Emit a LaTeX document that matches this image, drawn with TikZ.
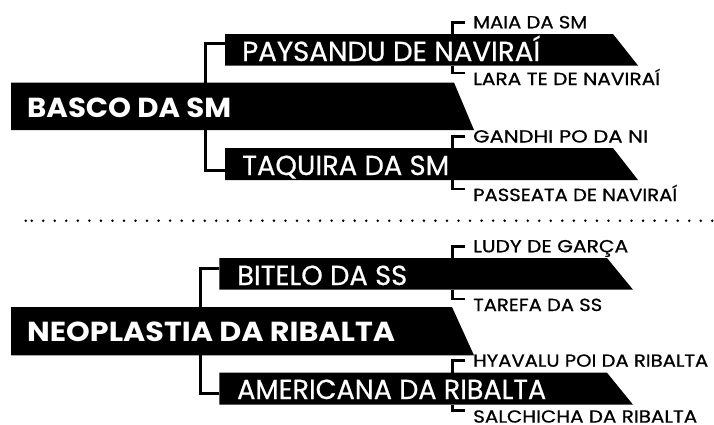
\documentclass[tikz,border=0pt]{standalone}
\usepackage{graphicx}
\usepackage{fontspec}
\setmainfont{Poppins}
\newfontfamily\medfont{Poppins}[FakeBold=0.7]
\newsavebox\fitbox
\newcommand\fitw[2]{\sbox\fitbox{#2}\scalebox{\fpeval{(#1)/(\the\wd\fitbox)}}[1]{\usebox\fitbox}}
\begin{document}
\begin{tikzpicture}[x=1pt,y=-1pt,
  bannertext/.style={text=white,anchor=base west,inner sep=0pt,font=\medfont\fontsize{27.5}{27.5}\selectfont},
  maintext/.style={text=white,anchor=base west,inner sep=0pt,font=\fontsize{27.5}{27.5}\selectfont\bfseries},
  leaftext/.style={text=black,anchor=base west,inner xsep=8pt,inner ysep=0pt,text height=12pt,text depth=0pt,font=\medfont\fontsize{17.5}{17.5}\selectfont},
  link/.style={line width=3pt,line join=miter},
  leaflink/.style={line width=2.5pt,line join=miter},
  dotline/.style={fill=black}
]
\useasboundingbox (0,0) rectangle (714,424);
\newcommand\bannerfill[5]{\fill (#1,#2) -- (#3,#2) -- (#4,#5) -- (#1,#5) -- cycle;}

% ---------- top family ----------
\bannerfill{11}{82.5}{454}{474}{130}
\bannerfill{225}{34}{613}{638}{65.5}
\bannerfill{225}{148}{613}{638}{180}

\node[maintext] (basco) at (27,117.3) {\fitw{204}{BASCO DA SM}};
\node[bannertext] (paysandu) at (242,61) {\fitw{298}{PAYSANDU DE NAVIRAÍ}};
\node[bannertext] (taquira) at (242,175) {\fitw{207}{TAQUIRA DA SM}};

\node[leaftext] (maia) at (465,28.3) {\fitw{114}{MAIA DA SM}};
\node[leaftext] (lara) at (465,85) {\fitw{187}{LARA TE DE NAVIRAÍ}};
\node[leaftext] (gandhi) at (465,142.5) {\fitw{175}{GANDHI PO DA NI}};
\node[leaftext] (passeata) at (465,201) {\fitw{204}{PASSEATA DE NAVIRAÍ}};

\coordinate (basco-t) at (205,82.5);
\coordinate (basco-b) at (205,130);
\coordinate (pay-in) at (225,43.3);
\coordinate (taq-in) at (225,170);
\coordinate (pay-t) at (452.5,34);
\coordinate (pay-b) at (452.5,65.5);
\coordinate (taq-t) at (452.5,148);
\coordinate (taq-b) at (452.5,180);

\draw[link] (pay-in) -| (basco-t);
\draw[link] (taq-in) -| (basco-b);
\draw[leaflink] (maia.west) -| (pay-t);
\draw[leaflink] (lara.north west) -| (pay-b);
\draw[leaflink] (gandhi.west) -| (taq-t);
\draw[leaflink] (passeata.north west) -| (taq-b);

% ---------- separator ----------
\fill[dotline] (25.7,220.7) circle (1.4);
\foreach \k in {0,...,59} {\fill[dotline] (31.7+11.535*\k,220.7) circle (1.4);}

% ---------- bottom family ----------
\bannerfill{11}{307}{452}{474}{355.3}
\bannerfill{219.3}{258}{607}{633}{289.7}
\bannerfill{219.3}{372.7}{607}{633}{404.7}

\node[maintext] (neo) at (27,341.3) {\fitw{368}{NEOPLASTIA DA RIBALTA}};
\node[bannertext] (bitelo) at (237,285) {\fitw{170}{BITELO DA SS}};
\node[bannertext] (americana) at (237,399) {\fitw{309}{AMERICANA DA RIBALTA}};

\node[leaftext] (ludy) at (465,252.3) {\fitw{155}{LUDY DE GARÇA}};
\node[leaftext] (tarefa) at (465,311) {\fitw{129}{TAREFA DA SS}};
\node[leaftext] (hyavalu) at (465,366.7) {\fitw{235}{HYAVALU POI DA RIBALTA}};
\node[leaftext] (salchicha) at (465,422.6) {\fitw{224}{SALCHICHA DA RIBALTA}};

\coordinate (neo-t) at (200.7,307);
\coordinate (neo-b) at (200.7,355.3);
\coordinate (bit-in) at (219.3,268.5);
\coordinate (ame-in) at (219.3,393.7);
\coordinate (bit-t) at (452.5,258);
\coordinate (bit-b) at (452.5,289.7);
\coordinate (ame-t) at (452.5,372.7);
\coordinate (ame-b) at (452.5,404.7);

\draw[link] (bit-in) -| (neo-t);
\draw[link] (ame-in) -| (neo-b);
\draw[leaflink] (ludy.west) -| (bit-t);
\draw[leaflink] (tarefa.north west) -| (bit-b);
\draw[leaflink] (hyavalu.west) -| (ame-t);
\draw[leaflink] (salchicha.north west) -| (ame-b);
\end{tikzpicture}
\end{document}
